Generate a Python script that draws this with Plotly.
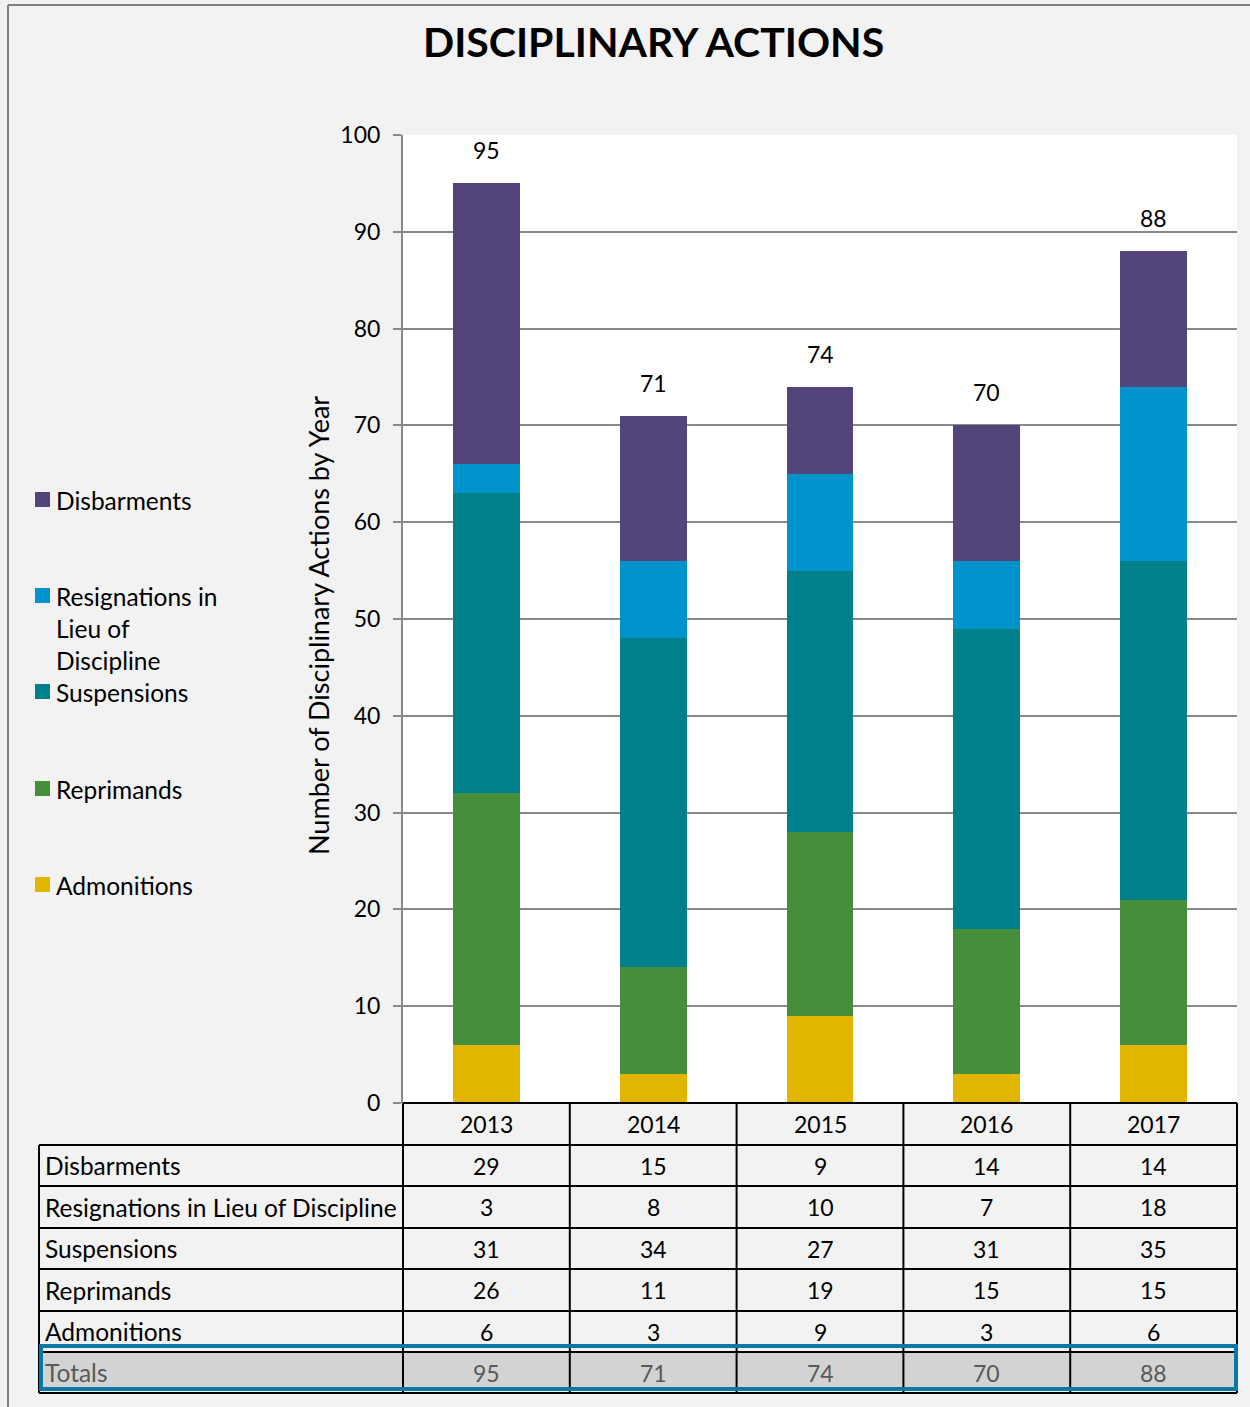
import plotly.graph_objects as go

years = ["2013", "2014", "2015", "2016", "2017"]
series_names = ["Admonitions", "Reprimands", "Suspensions",
                "Resignations in Lieu of Discipline", "Disbarments"]
admonitions = [6, 3, 9, 3, 6]
reprimands = [26, 11, 19, 15, 15]
suspensions = [31, 34, 27, 31, 35]
resignations = [3, 8, 10, 7, 18]
disbarments = [29, 15, 9, 14, 14]
colors = ["#e2b600", "#458f3c", "#008088", "#0093cb", "#53447a"]
legend_labels = ["Disbarments", "Resignations in<br>Lieu of<br>Discipline",
                 "Suspensions", "Reprimands", "Admonitions"]

series_values = [admonitions, reprimands, suspensions, resignations, disbarments]
totals = [sum(v) for v in zip(*series_values)]

W, H = 1250, 1407
FONT = "Lato"
TXT = 24.5   # word text size
NUM = 23     # number text size


def px(x):
    return x / W


def py(y):
    return 1 - y / H


fig = go.Figure()
for name, vals, col in zip(series_names, series_values, colors):
    fig.add_trace(go.Bar(x=years, y=vals, name=name, marker_color=col,
                         marker_line_width=0, width=0.4, showlegend=False))

# plot area in pixels
PL, PR, PT, PB = 403, 1237, 135, 1103

shapes = []
annotations = []

# total labels above bars
for i, t in enumerate(totals):
    annotations.append(dict(x=i, y=t, xref="x", yref="y", text=str(t),
                            showarrow=False, yanchor="bottom", yshift=17,
                            font=dict(size=NUM, color="#000000", family=FONT)))

# title
annotations.append(dict(x=px(653), y=py(42), xref="paper", yref="paper",
                        text="<b>DISCIPLINARY ACTIONS</b>", showarrow=False,
                        xanchor="center", yanchor="middle",
                        font=dict(size=41, color="#000000", family=FONT)))

# y-axis title
annotations.append(dict(x=px(318), y=py(626), xref="paper", yref="paper",
                        text="Number of Disciplinary Actions by Year",
                        showarrow=False, textangle=-90,
                        xanchor="center", yanchor="middle",
                        font=dict(size=27, color="#000000", family=FONT)))

# legend (custom)
legend_y = [500, 596, 692, 789, 885]
legend_colors = colors[::-1]
for lab, ly, col in zip(legend_labels, legend_y, legend_colors):
    shapes.append(dict(type="rect", xref="paper", yref="paper",
                       x0=px(35), x1=px(50), y0=py(ly - 8), y1=py(ly + 7),
                       fillcolor=col, line_width=0))
    annotations.append(dict(x=px(54), y=py(ly - 16), xref="paper", yref="paper",
                            text=lab, showarrow=False, xanchor="left",
                            yanchor="top", align="left",
                            font=dict(size=TXT, color="#000000", family=FONT)))

# outer frame
shapes.append(dict(type="line", xref="paper", yref="paper",
                   x0=px(8), x1=px(8), y0=py(5), y1=py(1407),
                   line=dict(color="#808080", width=2)))
shapes.append(dict(type="line", xref="paper", yref="paper",
                   x0=px(8), x1=px(1250), y0=py(5), y1=py(5),
                   line=dict(color="#808080", width=2)))

# data table
col_x = [PL + i * (PR - PL) / 5 for i in range(6)]
TL = 39
row_top = [1103, 1145, 1186, 1228, 1269, 1311, 1352, 1393]

# totals row fill
shapes.append(dict(type="rect", xref="paper", yref="paper",
                   x0=px(TL), x1=px(PR), y0=py(row_top[6]), y1=py(row_top[7] - 2),
                   fillcolor="#d3d3d3", line_width=0, layer="below"))

# horizontal lines
shapes.append(dict(type="line", xref="paper", yref="paper",
                   x0=px(PL), x1=px(PR), y0=py(row_top[0]), y1=py(row_top[0]),
                   line=dict(color="#000000", width=2)))
for ry in row_top[1:]:
    shapes.append(dict(type="line", xref="paper", yref="paper",
                       x0=px(TL), x1=px(PR), y0=py(ry), y1=py(ry),
                       line=dict(color="#000000", width=2)))
# vertical lines
shapes.append(dict(type="line", xref="paper", yref="paper",
                   x0=px(TL), x1=px(TL), y0=py(row_top[1]), y1=py(row_top[7]),
                   line=dict(color="#000000", width=2)))
for cx in col_x:
    shapes.append(dict(type="line", xref="paper", yref="paper",
                       x0=px(cx), x1=px(cx), y0=py(row_top[0]), y1=py(row_top[7]),
                       line=dict(color="#000000", width=2)))

# header years
for i, yr in enumerate(years):
    cx = (col_x[i] + col_x[i + 1]) / 2
    annotations.append(dict(x=px(cx), y=py((row_top[0] + row_top[1]) / 2),
                            xref="paper", yref="paper", text=yr, showarrow=False,
                            xanchor="center", yanchor="middle",
                            font=dict(size=NUM, color="#000000", family=FONT)))

table_rows = [("Disbarments", disbarments),
              ("Resignations in Lieu of Discipline", resignations),
              ("Suspensions", suspensions),
              ("Reprimands", reprimands),
              ("Admonitions", admonitions),
              ("Totals", totals)]
for r, (lab, vals) in enumerate(table_rows):
    cy = (row_top[r + 1] + row_top[r + 2]) / 2
    tc = "#595959" if lab == "Totals" else "#000000"
    annotations.append(dict(x=px(TL + 4), y=py(cy), xref="paper", yref="paper",
                            text=lab, showarrow=False, xanchor="left",
                            yanchor="middle",
                            font=dict(size=TXT, color=tc, family=FONT)))
    for i, v in enumerate(vals):
        cx = (col_x[i] + col_x[i + 1]) / 2
        annotations.append(dict(x=px(cx), y=py(cy), xref="paper", yref="paper",
                                text=str(v), showarrow=False, xanchor="center",
                                yanchor="middle",
                                font=dict(size=NUM, color=tc, family=FONT)))

# highlight rect around totals
shapes.append(dict(type="rect", xref="paper", yref="paper",
                   x0=px(41), x1=px(1236), y0=py(1346), y1=py(1389),
                   fillcolor="rgba(0,0,0,0)",
                   line=dict(color="#0a78a6", width=4)))

fig.update_layout(
    width=W, height=H,
    margin=dict(l=0, r=0, t=0, b=0, autoexpand=False),
    paper_bgcolor="#f2f2f2",
    plot_bgcolor="#ffffff",
    barmode="stack",
    font=dict(family=FONT, size=22, color="#000000"),
    xaxis=dict(domain=[px(PL), px(PR)], range=[-0.5, 4.5], visible=False,
               type="category", fixedrange=True, automargin=False),
    yaxis=dict(domain=[py(PB), py(PT)], range=[0, 100], dtick=10,
               showgrid=True, gridcolor="#898989", gridwidth=1.5,
               showline=True, linecolor="#898989", linewidth=2,
               ticks="outside", ticklen=8, tickcolor="#898989", tickwidth=2,
               tickfont=dict(size=NUM, family=FONT, color="#000000"),
               ticklabelstandoff=8, automargin=False,
               zeroline=False),
    shapes=shapes,
    annotations=annotations,
)

fig.write_html("out.html")
